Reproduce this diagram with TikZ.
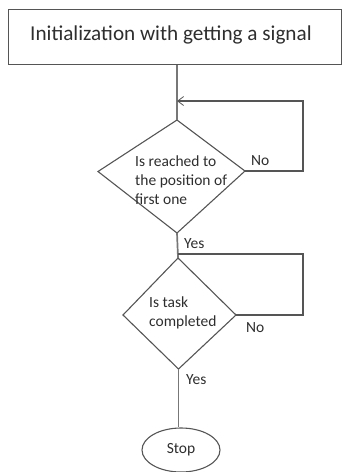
\documentclass[tikz,border=0pt]{standalone}
\usepackage{fontspec}
\setmainfont{Carlito}
\usetikzlibrary{arrows.meta,shapes.geometric}
\definecolor{ink}{HTML}{2E2E2E}
\definecolor{edge}{HTML}{555555}
\begin{document}
\begin{tikzpicture}[x=1pt,y=-1pt,
  every node/.style={text=ink,font=\fontsize{15.5}{19}\selectfont,inner sep=0pt},
  shapeline/.style={draw=edge,line width=1.1pt},
  boxline/.style={draw=edge,line width=1.4pt},
  flow/.style={draw=edge!80,line width=1.7pt},
  loopline/.style={draw=edge,line width=1.1pt},
  tip/.style={-{Straight Barb[length=6pt,width=9pt,line width=0.8pt]}}]
\useasboundingbox (0,0) rectangle (342,472);
% start box
\node[boxline,minimum width=333pt,minimum height=55pt,anchor=north west] (init) at (8,9) {};
\node[anchor=base west,font=\fontsize{21.2}{25}\selectfont] (inittext) at (30,40) {Initialization with getting a signal};
% diamond 1 corners
\coordinate (d1t) at (177,120);
\coordinate (d1r) at (245,171);
\coordinate (d1b) at (177,233);
\coordinate (d1l) at (98,171.5);
\draw[shapeline] (d1t) -- (d1r) -- (d1b) -- (d1l) -- cycle;
\node[anchor=west,align=left] (q1) at (135,180) {Is reached to\\the position of\\first one};
% diamond 2 corners
\coordinate (d2t) at (178,258);
\coordinate (d2r) at (236,315);
\coordinate (d2b) at (178.5,369);
\coordinate (d2l) at (123,315);
\draw[shapeline] (d2t) -- (d2r) -- (d2b) -- (d2l) -- cycle;
\node[anchor=west,align=left] (q2) at (149,313) {Is task\\completed};
% stop
\node[ellipse,shapeline,minimum width=78pt,minimum height=44pt] (stop) at (181,450) {Stop};
% connectors
\draw[flow] (init.south -| d1t) -- (d1t);
\coordinate (c1) at (303,171);
\coordinate (ret1) at (177,101);
\draw[loopline,tip] (d1r) -- (c1) |- (ret1);
\draw[flow] (d1b) -- (d2t);
\coordinate (c2) at (303,315);
\coordinate (ret2) at (178,254);
\draw[loopline] (d2r) -- (c2) |- (ret2);
\draw[flow] (d2b) -- (d2b |- stop.north);
% labels
\node[anchor=base west] (no1) at (251,165) {No};
\node[anchor=base west] (yes1) at (184,248) {Yes};
\node[anchor=base west] (no2) at (246,332) {No};
\node[anchor=base west] (yes2) at (186,384) {Yes};
\end{tikzpicture}
\end{document}
